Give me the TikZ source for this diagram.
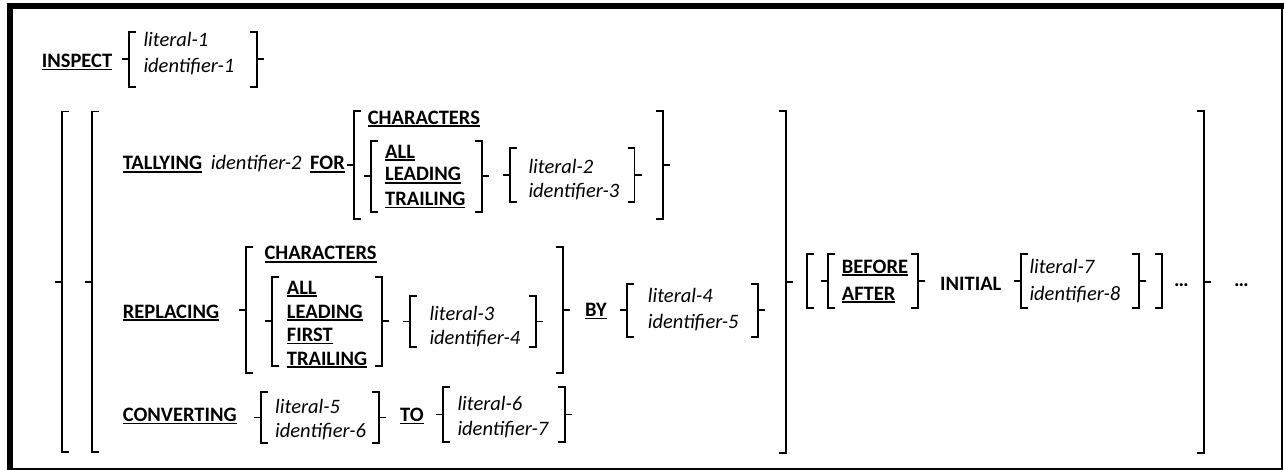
\documentclass[tikz,border=0pt]{standalone}
\usepackage{fontspec}
\setmainfont{Carlito}
\newcommand{\kw}[1]{\setbox0\hbox{\bfseries #1}\rlap{\rule[-2.6pt]{\wd0}{1.5pt}}\box0}
\newcommand{\Lbrack}[3]{\draw[br] (#1+7,#2) -- (#1,#2) -- (#1,#3) -- (#1+7,#3);}
\newcommand{\Rbrack}[3]{\draw[br] (#1-7,#2) -- (#1,#2) -- (#1,#3) -- (#1-7,#3);}
\newcommand{\Lbrace}[3]{\Lbrack{#1}{#2}{#3}\draw[br] (#1-7,{(#2+#3)/2}) -- (#1,{(#2+#3)/2});}
\newcommand{\Rbrace}[3]{\Rbrack{#1}{#2}{#3}\draw[br] (#1+7,{(#2+#3)/2}) -- (#1,{(#2+#3)/2});}
\tikzset{
  txt/.style={anchor=base west, inner sep=0pt, font=\fontsize{20.5}{24}\selectfont},
  itx/.style={txt, font=\fontsize{20.5}{24}\selectfont\itshape},
  br/.style={line width=1.8pt}
}
\begin{document}
\begin{tikzpicture}[x=1pt,y=-1pt]
\useasboundingbox (0,0) rectangle (1284,470);
% frame
\fill (7,3) rectangle (1284,9);
\fill (7,3) rectangle (13,470);
\draw[line width=1.5pt] (1282,9) -- (1282,469);
\draw[line width=2pt] (13,469) -- (1282.75,469);

% row 1
\node[txt] (inspect) at (41.7,67.7) {\kw{INSPECT}};
\Lbrace{129}{31.7}{86.7}
\node[itx] (lit1) at (143.3,46.7) {literal-1};
\node[itx] (id1) at (143.3,72.7) {identifier-1};
\Rbrace{257.3}{31.7}{86.7}

% big outer brackets
\Lbrace{62}{111.5}{452}
\Lbrace{92}{111.5}{452}
\Rbrace{786}{110.7}{452.7}
\Rbrace{1204}{110.7}{452.7}

% TALLYING
\node[txt] (tally) at (122.7,170) {\kw{TALLYING}};
\node[itx] (id2) at (210.7,170) {identifier-2};
\node[txt] (for) at (310,170) {\kw{FOR}};
\Lbrace{354}{110.7}{219.3}
\node[txt] (chars1) at (367.7,124.3) {\kw{CHARACTERS}};
\Lbrace{370.7}{140.7}{211.7}
\node[txt] (all1) at (385,158.3) {\kw{ALL}};
\node[txt] (lead1) at (385,181) {\kw{LEADING}};
\node[txt] (trail1) at (385,205.6) {\kw{TRAILING}};
\Rbrace{481.7}{140.7}{211.7}
\Lbrace{510}{148.3}{202.3}
\node[itx] (lit2) at (528.3,173.3) {literal-2};
\node[itx] (id3) at (528.3,197.8) {identifier-3};
\Rbrace{634.5}{148.3}{202.3}
\Rbrace{662.7}{110.7}{219.3}

% REPLACING
\node[txt] (repl) at (122.7,318.3) {\kw{REPLACING}};
\Lbrace{246}{246.7}{373.3}
\node[txt] (chars2) at (264.3,260) {\kw{CHARACTERS}};
\Lbrace{272.3}{276.7}{365.7}
\node[txt] (all2) at (286.7,294) {\kw{ALL}};
\node[txt] (lead2) at (286.7,318.3) {\kw{LEADING}};
\node[txt] (first) at (286.7,341.7) {\kw{FIRST}};
\node[txt] (trail2) at (286.7,365) {\kw{TRAILING}};
\Rbrace{382.3}{276.7}{365.7}
\Lbrace{410}{295.7}{347.3}
\node[itx] (lit3) at (429.3,320) {literal-3};
\node[itx] (id4) at (429.3,344.5) {identifier-4};
\Rbrace{536}{295.7}{347.3}
\Rbrace{563.3}{246.7}{373.3}
\node[txt] (by) at (585,316.7) {\kw{BY}};
\Lbrace{626.7}{284}{336.7}
\node[itx] (lit4) at (647.7,302.7) {literal-4};
\node[itx] (id5) at (647.7,328) {identifier-5};
\Rbrace{758}{284}{336.7}

% CONVERTING
\node[txt] (conv) at (122.7,421.7) {\kw{CONVERTING}};
\Lbrace{261}{391.7}{443.3}
\node[itx] (lit5) at (275,413.3) {literal-5};
\node[itx] (id6) at (275,437) {identifier-6};
\Rbrace{379.3}{391.7}{443.3}
\node[txt] (to) at (400,421.7) {\kw{TO}};
\Lbrace{442.7}{387.3}{441.7}
\node[itx] (lit6) at (457.3,410) {literal-6};
\node[itx] (id7) at (457.3,435) {identifier-7};
\Rbrace{565}{387.3}{441.7}

% BEFORE / AFTER INITIAL
\Lbrack{806.7}{254}{308.3}
\Lbrace{828.3}{254}{308.3}
\node[txt] (before) at (841.7,273.3) {\kw{BEFORE}};
\node[txt] (after) at (841.7,300) {\kw{AFTER}};
\Rbrace{918.3}{254}{308.3}
\node[txt] (initial) at (940,290) {\bfseries INITIAL};
\Lbrace{1020.7}{254}{308.3}
\node[itx] (lit7) at (1029.3,273.3) {literal-7};
\node[itx] (id8) at (1029.3,300) {identifier-8};
\Rbrace{1139.3}{254}{308.3}
\Rbrack{1161.7}{254}{308.3}
\node[txt] (dots1) at (1174,286) {\bfseries …};
\node[txt] (dots2) at (1234,286) {\bfseries …};
\end{tikzpicture}
\end{document}
